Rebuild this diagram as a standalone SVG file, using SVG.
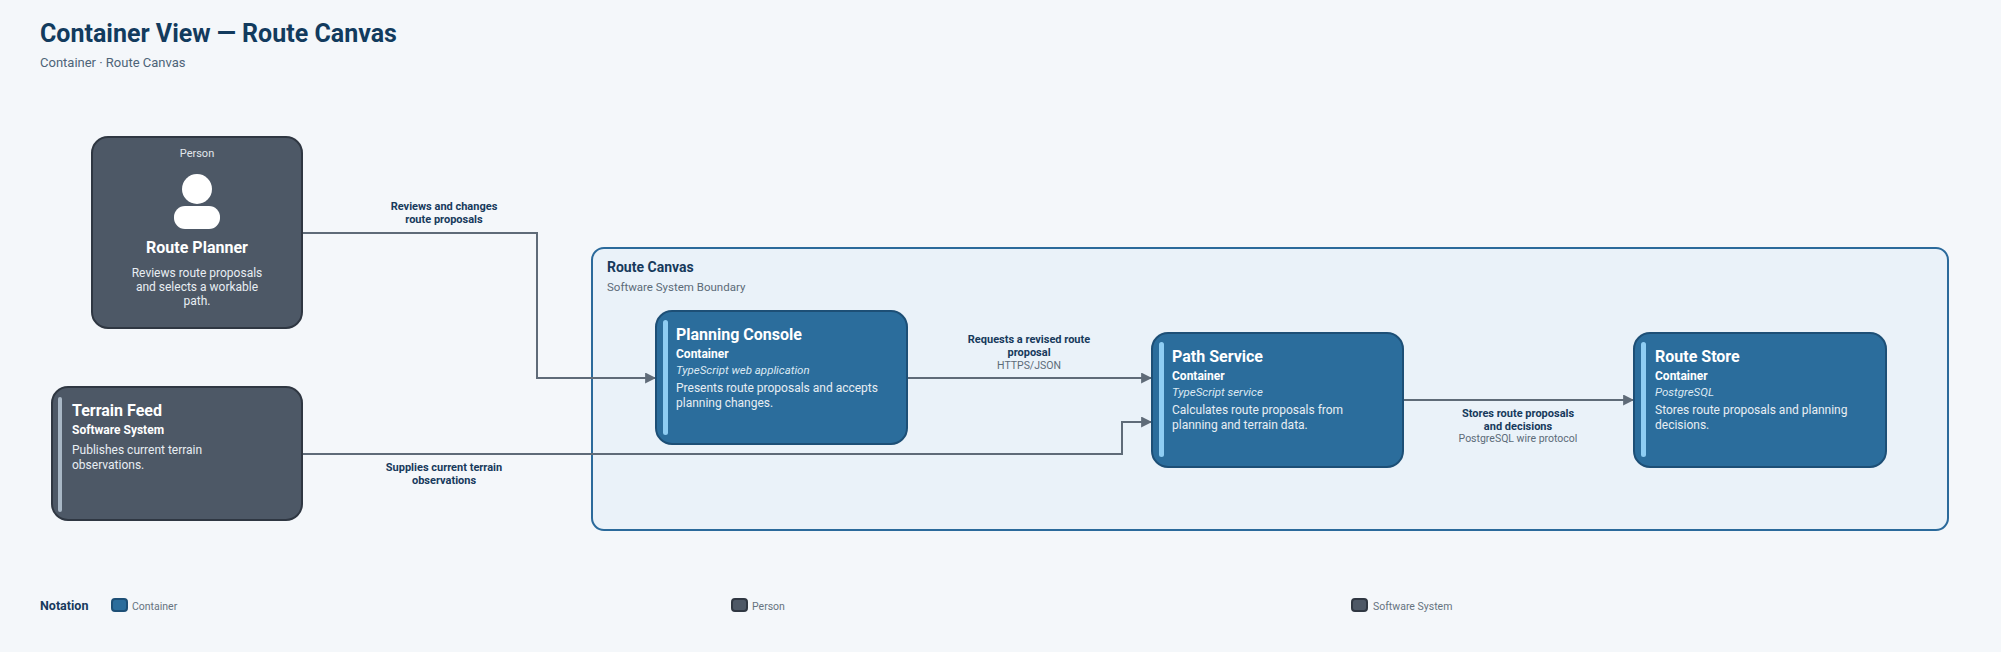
<svg xmlns="http://www.w3.org/2000/svg" width="2001" height="652" viewBox="0 0 2001 652">
<style>
text{font-family:Roboto,"Noto Sans",sans-serif}
.ttl{font-size:25px;font-weight:700;fill:#123b5e}
.sub{font-size:13px;fill:#4d6478}
.dark{fill:#4d5866;stroke:#2f3742;stroke-width:2}
.cont{fill:#2b6d9c;stroke:#1d4f76;stroke-width:2}
.nm{font-size:16px;font-weight:700;fill:#fff}
.ty{font-size:12px;font-weight:700;fill:#fff}
.te{font-size:11.5px;font-style:italic;fill:#dce9f3}
.ds{font-size:12px;fill:#e8eef3}
.el{font-size:11px;font-weight:700;fill:#173a5c;text-anchor:middle}
.et{font-size:10.5px;fill:#5c6b78;text-anchor:middle}
.edge{fill:none;stroke:#5f6b78;stroke-width:2;marker-end:url(#ar)}
.lg{font-size:10.5px;fill:#66737f}
</style>
<defs><marker id="ar" viewBox="0 0 10 10" refX="9" refY="5" markerWidth="11" markerHeight="11" orient="auto" markerUnits="userSpaceOnUse"><path d="M0,0L10,5L0,10z" fill="#5f6b78"/></marker></defs>
<rect width="2001" height="652" fill="#f4f7fa"/>
<text x="40" y="42" class="ttl">Container View — Route Canvas</text>
<text x="40" y="67" class="sub">Container · Route Canvas</text>
<g id="boundary"><rect x="592" y="248" width="1356" height="282" rx="12" fill="#eaf2f9" stroke="#2b6a9b" stroke-width="2"/>
<text x="607" y="272" font-size="14" font-weight="700" fill="#173a5c">Route Canvas</text>
<text x="607" y="291" font-size="11.5" fill="#5c6b78">Software System Boundary</text></g>
<g id="connectors">
<path class="edge" d="M302,233H537V378H655"/>
<text class="el" x="444" y="210">Reviews and changes</text><text class="el" x="444" y="223">route proposals</text>
<path class="edge" d="M302,454H1122V422H1151"/>
<text class="el" x="444" y="471">Supplies current terrain</text><text class="el" x="444" y="484">observations</text>
<path class="edge" d="M907,378H1151"/>
<text class="el" x="1029" y="343">Requests a revised route</text><text class="el" x="1029" y="356">proposal</text><text class="et" x="1029" y="369">HTTPS/JSON</text>
<path class="edge" d="M1403,400H1633"/>
<text class="el" x="1518" y="417">Stores route proposals</text><text class="el" x="1518" y="430">and decisions</text><text class="et" x="1518" y="442">PostgreSQL wire protocol</text>
</g>
<g id="route-planner"><rect class="dark" x="92" y="137" width="210" height="191" rx="16"/>
<text x="197" y="157" font-size="11" fill="#e2e7ec" text-anchor="middle">Person</text>
<circle cx="197" cy="189" r="15" fill="#fff"/><rect x="174" y="206" width="46" height="23" rx="11" fill="#fff"/>
<text x="197" y="253" class="nm" text-anchor="middle">Route Planner</text>
<text class="ds" text-anchor="middle"><tspan x="197" y="277">Reviews route proposals</tspan><tspan x="197" y="291">and selects a workable</tspan><tspan x="197" y="305">path.</tspan></text></g>
<g id="terrain-feed"><rect class="dark" x="52" y="387" width="250" height="133" rx="16"/>
<rect x="58" y="397" width="4" height="115" rx="2" fill="#a9b8c6"/>
<text x="72" y="416" class="nm">Terrain Feed</text><text x="72" y="434" class="ty">Software System</text>
<text class="ds"><tspan x="72" y="454">Publishes current terrain</tspan><tspan x="72" y="469">observations.</tspan></text></g>
<g id="planning-console"><rect class="cont" x="656" y="311" width="251" height="133" rx="16"/>
<rect x="663" y="320" width="5" height="115" rx="2.5" fill="#8ecdf3"/>
<text x="676" y="340" class="nm">Planning Console</text><text x="676" y="358" class="ty">Container</text>
<text x="676" y="374" class="te">TypeScript web application</text>
<text class="ds"><tspan x="676" y="392">Presents route proposals and accepts</tspan><tspan x="676" y="407">planning changes.</tspan></text></g>
<g id="path-service"><rect class="cont" x="1152" y="333" width="251" height="134" rx="16"/>
<rect x="1159" y="342" width="5" height="115" rx="2.5" fill="#8ecdf3"/>
<text x="1172" y="362" class="nm">Path Service</text><text x="1172" y="380" class="ty">Container</text>
<text x="1172" y="396" class="te">TypeScript service</text>
<text class="ds"><tspan x="1172" y="414">Calculates route proposals from</tspan><tspan x="1172" y="429">planning and terrain data.</tspan></text></g>
<g id="route-store"><rect class="cont" x="1634" y="333" width="252" height="134" rx="16"/>
<rect x="1641" y="342" width="5" height="115" rx="2.5" fill="#8ecdf3"/>
<text x="1655" y="362" class="nm">Route Store</text><text x="1655" y="380" class="ty">Container</text>
<text x="1655" y="396" class="te">PostgreSQL</text>
<text class="ds"><tspan x="1655" y="414">Stores route proposals and planning</tspan><tspan x="1655" y="429">decisions.</tspan></text></g>
<g id="legend">
<text x="40" y="610" font-size="12.5" font-weight="700" fill="#173a5c">Notation</text>
<rect x="112" y="599" width="15" height="12" rx="3" class="cont" stroke-width="1"/><text x="132" y="610" class="lg">Container</text>
<rect x="732" y="599" width="15" height="12" rx="3" class="dark" stroke-width="1"/><text x="752" y="610" class="lg">Person</text>
<rect x="1352" y="599" width="15" height="12" rx="3" class="dark" stroke-width="1"/><text x="1373" y="610" class="lg">Software System</text>
</g>
</svg>
